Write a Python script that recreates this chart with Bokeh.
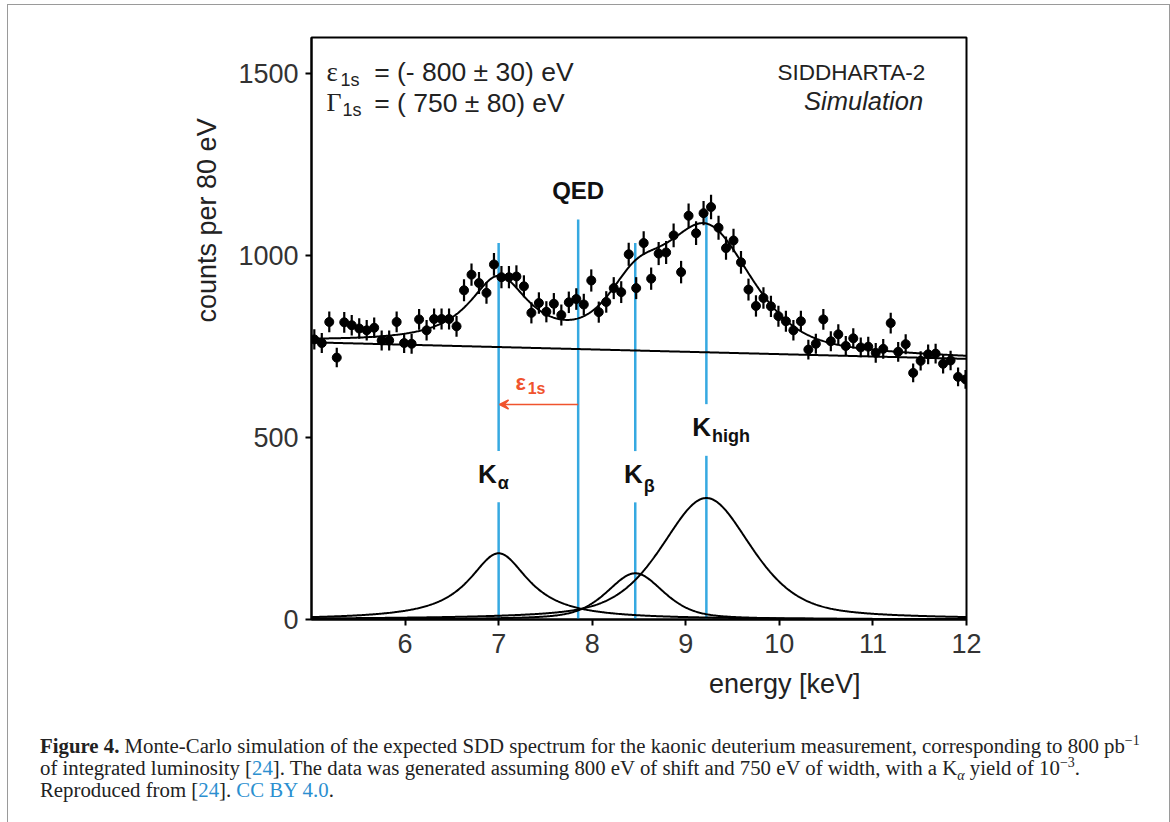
import numpy as np
from bokeh.plotting import figure
from bokeh.models import Label, Arrow, VeeHead, Div, ColumnDataSource, Range1d, Title
from bokeh.layouts import column
from bokeh.embed import file_html
from bokeh.resources import INLINE

# ---------------- data ----------------
energy = [5.03, 5.11, 5.19, 5.27, 5.35, 5.43, 5.51, 5.59, 5.67, 5.75,
          5.83, 5.91, 5.99, 6.07, 6.15, 6.23, 6.31, 6.39, 6.47, 6.55,
          6.63, 6.71, 6.79, 6.87, 6.95, 7.03, 7.11, 7.19, 7.27, 7.35,
          7.43, 7.51, 7.59, 7.67, 7.75, 7.83, 7.91, 7.99, 8.07, 8.15,
          8.23, 8.31, 8.39, 8.47, 8.55, 8.63, 8.71, 8.79, 8.87, 8.95,
          9.03, 9.11, 9.19, 9.27, 9.35, 9.43, 9.51, 9.59, 9.67, 9.75,
          9.83, 9.91, 9.99, 10.07, 10.15, 10.23, 10.31, 10.39, 10.47, 10.55,
          10.63, 10.71, 10.79, 10.87, 10.95, 11.03, 11.11, 11.19, 11.27, 11.35,
          11.43, 11.51, 11.59, 11.67, 11.75, 11.83, 11.91, 11.99]
counts = [770, 760, 818, 720, 817, 809, 800, 795, 802, 767,
          767, 818, 760, 758, 825, 795, 826, 826, 826, 806,
          905, 948, 925, 898, 976, 941, 941, 943, 916, 843,
          870, 846, 868, 837, 872, 881, 866, 932, 845, 873,
          911, 900, 1004, 911, 1035, 937, 1006, 1009, 1056, 955,
          1110, 1062, 1117, 1134, 1077, 1021, 1042, 982, 907, 862,
          884, 861, 834, 820, 795, 820, 742, 758, 825, 765,
          784, 752, 773, 748, 750, 733, 744, 815, 736, 757,
          678, 711, 729, 731, 703, 712, 667, 660]
# Poisson errors of the counts
errors = list(np.sqrt(counts))

# fit model parameters
bg_at_5keV = 762.0
bg_slope = -6.5          # counts per keV
peak_names = ["K_alpha", "K_beta", "K_high"]
peak_centers = [7.0, 8.46, 9.22]
peak_heights = [182.0, 127.0, 334.0]
peak_fwhm = [0.78, 0.72, 1.14]
peak_lorentz_frac = [1.0, 0.5, 0.5]

# vertical marker lines (energy, lower end, upper end)
mark_x = [7.0, 7.0, 7.85, 8.46, 8.46, 9.22, 9.22]
mark_y0 = [0, 463, 0, 0, 463, 0, 592]
mark_y1 = [322, 1035, 1100, 322, 1035, 450, 1117]

x_ticks = [6, 7, 8, 9, 10, 11, 12]
y_ticks = [0, 500, 1000, 1500]

BLUE = "#36a9e1"
RED = "#f0532d"
FONT = "Liberation Sans"


def pvoigt(x, c, h, w, eta):
    lor = 1.0 / (1.0 + ((x - c) / (w / 2.0)) ** 2)
    gau = np.exp(-4.0 * np.log(2.0) * (x - c) ** 2 / w ** 2)
    return h * (eta * lor + (1.0 - eta) * gau)


xs = np.linspace(5.0, 12.0, 701)
background = bg_at_5keV + bg_slope * (xs - 5.0)
components = [pvoigt(xs, c, h, w, e) for c, h, w, e in
              zip(peak_centers, peak_heights, peak_fwhm, peak_lorentz_frac)]
total = background + sum(components)

# ---------------- figure ----------------
p = figure(width=1151, height=704, x_range=Range1d(5, 12), y_range=Range1d(0, 1600),
           output_backend="svg", toolbar_location=None,
           min_border_left=303, min_border_right=193, min_border_top=32, min_border_bottom=90)
p.background_fill_color = "white"
p.border_fill_color = "white"
p.grid.visible = False
p.outline_line_color = "black"
p.outline_line_width = 2
p.outline_line_alpha = 1.0

for ax, ticks in ((p.xaxis, x_ticks), (p.yaxis, y_ticks)):
    ax.ticker = ticks
    ax.axis_line_width = 2
    ax.axis_line_color = "black"
    ax.major_tick_line_width = 2
    ax.major_tick_line_color = "black"
    ax.major_tick_out = 6
    ax.major_tick_in = 0
    ax.minor_tick_line_color = None
    ax.major_label_text_font = FONT
    ax.major_label_text_font_size = "27px"
    ax.major_label_text_color = "#333333"
p.xaxis.major_label_standoff = 8
p.yaxis.major_label_standoff = 7

# axis titles (side titles, so they can be shifted along the axis as in the original)
p.add_layout(Title(text="counts per 80 eV", align="left", offset=297, standoff=28,
                   text_font=FONT, text_font_size="27px", text_font_style="normal",
                   text_color="#222222"), "left")
p.add_layout(Title(text="energy [keV]", align="right", offset=106, standoff=22,
                   text_font=FONT, text_font_size="27px", text_font_style="normal",
                   text_color="#222222"), "below")

# blue marker lines
p.segment(x0=mark_x, y0=mark_y0, x1=mark_x, y1=mark_y1, line_color=BLUE, line_width=2.5)

# fit curves
p.line(xs, background, line_color="black", line_width=2)
for comp in components:
    p.line(xs, comp, line_color="black", line_width=2)
p.line(xs, total, line_color="black", line_width=2)

# data with error bars
src = ColumnDataSource(dict(x=energy, y=counts,
                            lo=[c - e for c, e in zip(counts, errors)],
                            hi=[c + e for c, e in zip(counts, errors)]))
p.segment(x0="x", y0="lo", x1="x", y1="hi", source=src, line_color="black", line_width=2.2)
p.scatter("x", "y", source=src, size=9, fill_color="black", line_color="black")

# red shift arrow
p.add_layout(Arrow(end=VeeHead(size=9, line_color=RED, fill_color=RED, line_width=1.5),
                   x_start=7.85, y_start=591, x_end=7.01, y_end=591,
                   line_color=RED, line_width=1.5))


def lab(x, y, text, size, color="#222222", style="normal", align="left", font=FONT):
    p.add_layout(Label(x=x, y=y, text=text, text_font=font, text_font_size=size,
                       text_color=color, text_font_style=style, text_align=align,
                       text_baseline="middle"))


# shift label
lab(7.18, 652, "\u03b5", "22px", RED, "bold")
lab(7.31, 636, "1s", "16px", RED, "bold")

# peak labels
lab(7.85, 1179, "QED", "24px", "#111111", "bold", "center")
lab(6.78, 401, "K", "26px", "#111111", "bold")
lab(6.99, 374, "\u03b1", "18px", "#111111", "bold")
lab(8.34, 401, "K", "26px", "#111111", "bold")
lab(8.55, 368, "\u03b2", "18px", "#111111", "bold")
lab(9.07, 528, "K", "26px", "#111111", "bold")
lab(9.28, 505, "high", "18px", "#111111", "bold")

# parameter box
lab(5.16, 1504, "\u03b5", "27px", font="Liberation Serif")
lab(5.31, 1483, "1s", "18px")
lab(5.67, 1504, "= (- 800 \u00b1 30) eV", "26.5px")
lab(5.16, 1421, "\u0393", "26px", font="Liberation Serif")
lab(5.33, 1400, "1s", "18px")
lab(5.67, 1421, "= ( 750 \u00b1 80) eV", "26.5px")
lab(10.77, 1503, "SIDDHARTA-2", "22.5px", align="center")
lab(10.90, 1426, "Simulation", "25.5px", style="italic", align="center")

# ---------------- caption ----------------
link = "color:#2b8fd0"
sup = '<sup style="font-size:14px;line-height:0">'
cap_html = (
    '<div style="font-family:\'Liberation Serif\',serif; font-size:20.8px; line-height:22px;'
    ' color:#222; white-space:nowrap; padding:21px 0 0 27px;">'
    '<b>Figure 4.</b> Monte-Carlo simulation of the expected SDD spectrum for the kaonic '
    'deuterium measurement, corresponding to 800 pb' + sup + '\u22121</sup><br>'
    'of integrated luminosity [<span style="' + link + '">24</span>]. The data was generated '
    'assuming 800 eV of shift and 750 eV of width, with a K<sub style="font-size:14px;line-height:0"><i>\u03b1</i></sub> '
    'yield of 10' + sup + '\u22123</sup>.<br>'
    'Reproduced from [<span style="' + link + '">24</span>]. <span style="' + link + '">CC BY 4.0</span>.'
    '</div>'
)
cap = Div(text=cap_html, width=1151, height=103)

layout = column(p, cap, styles={"border": "1px solid #9a9a9a", "margin-left": "7px",
                                "margin-top": "4px", "background": "white"})

open("out.html", "w").write(file_html(layout, INLINE))
